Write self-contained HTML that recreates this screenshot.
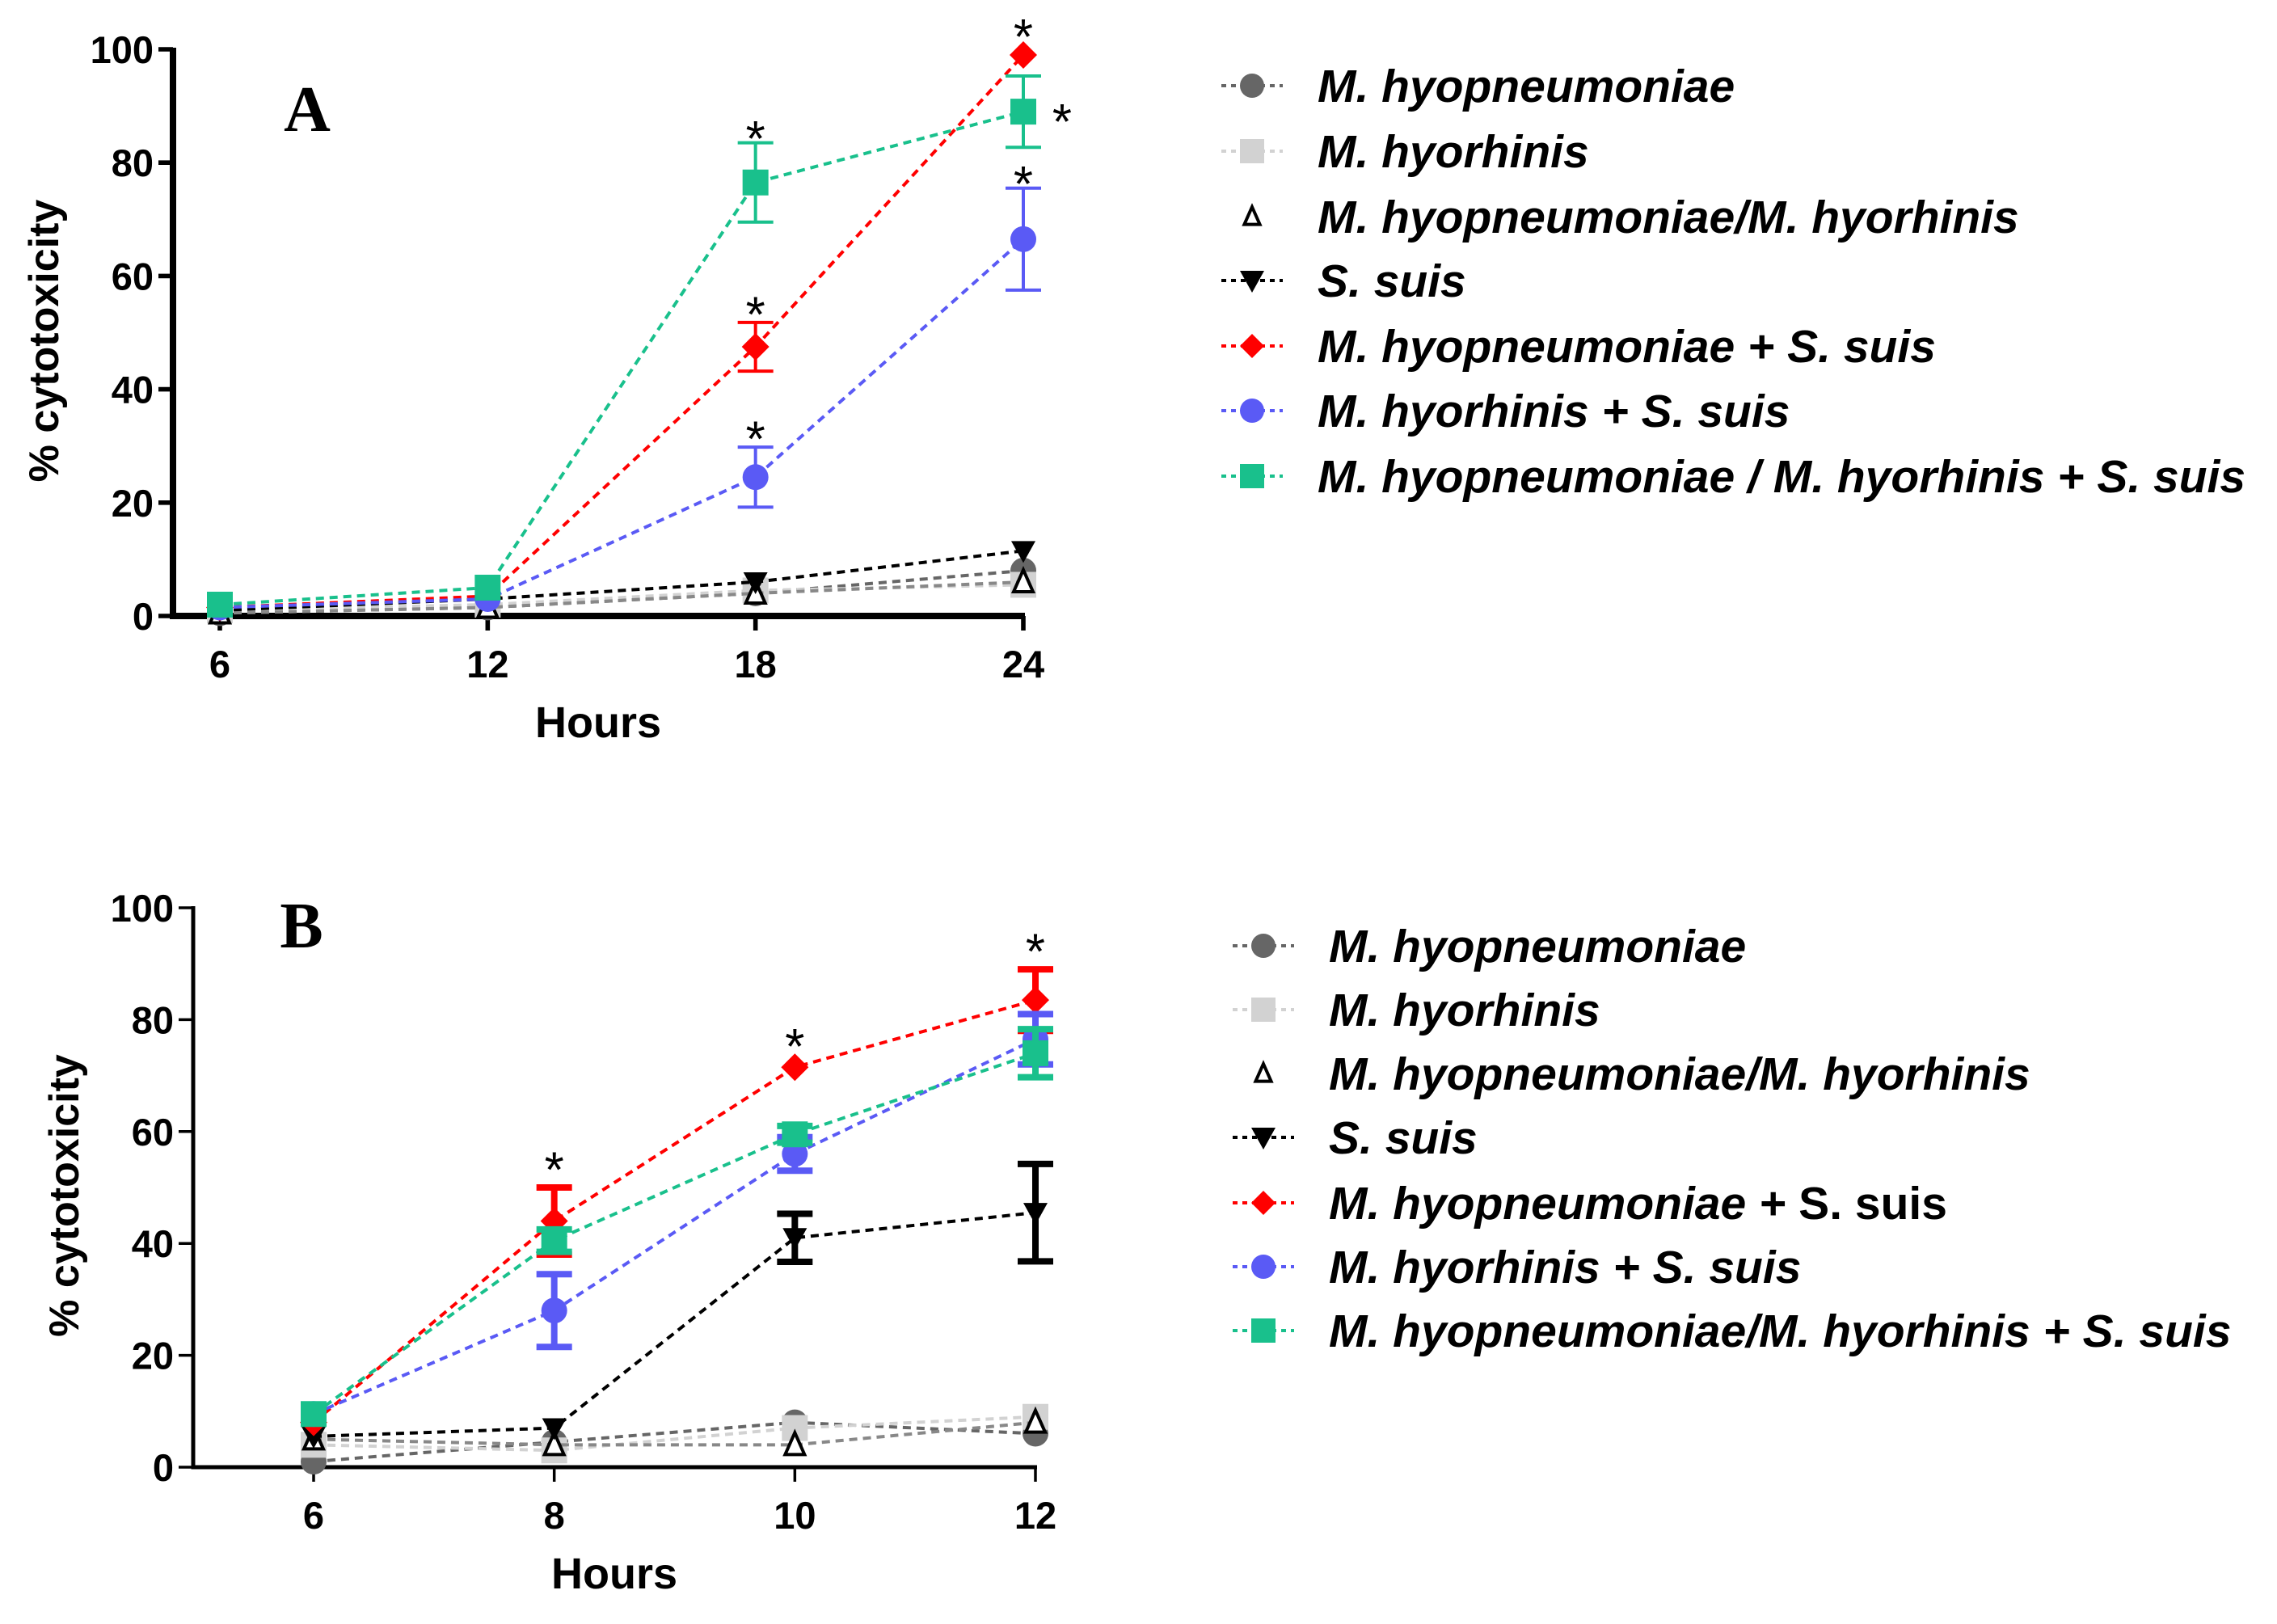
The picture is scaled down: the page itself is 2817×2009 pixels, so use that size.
<!DOCTYPE html>
<html><head><meta charset="utf-8"><style>
html,body{margin:0;padding:0;background:#fff;}
svg{display:block;}
</style></head><body>
<svg id="fig" width="2817" height="2009" viewBox="0 0 2817 2009" xmlns="http://www.w3.org/2000/svg" font-family="Liberation Sans, sans-serif"></svg>
<script>
const NS="http://www.w3.org/2000/svg";
const svg=document.getElementById('fig');
// ---- Data ----
const seriesNames=["M. hyopneumoniae","M. hyorhinis","M. hyopneumoniae/M. hyorhinis","S. suis","M. hyopneumoniae + S. suis","M. hyorhinis + S. suis","M. hyopneumoniae / M. hyorhinis + S. suis"];
const seriesColors=["#666666","#d2d2d2","#000000","#000000","#ff0000","#5a5af5","#19c08c"];
const seriesMarkers=["circle","square","triUp","triDown","diamond","circle","square"];
const yTicks=[0,20,40,60,80,100];
const hoursA=[6,12,18,24];
const mhpA=[0.5,1.5,4,8];
const mhrA=[1,2,4.5,5.5];
const mixA=[0.5,1.5,4,6];
const ssA=[1,3,6,11.5];
const mhpSsA=[1.5,3.5,47.5,99];
const mhpSsErrA=[0,0,4.3,0];
const mhrSsA=[1.5,3,24.5,66.5];
const mhrSsErrA=[0,0,5.3,9];
const mixSsA=[2,5,76.5,89];
const mixSsErrA=[0,0,7,6.3];
const starsA=[[18,86],[18,55],[18,33],[24,104],[24,78]];
const sideStarA=[24,89];
const hoursB=[6,8,10,12];
const mhpB=[1,4.5,8,6];
const mhrB=[4,3,7,9];
const mixB=[5,4,4,8];
const ssB=[5.5,7,41,45.5];
const ssErrB=[0,0,4.3,8.7];
const mhpSsB=[8,44,71.5,83.5];
const mhpSsErrB=[0,6,0,5.5];
const mhrSsB=[9.5,28,56,76.5];
const mhrSsErrB=[0,6.5,3,4.5];
const mixSsB=[9.5,40.5,59.5,74];
const mixSsErrB=[0,2,1.5,4.3];
const starsB=[[8,55],[10,77],[12,94]];

function el(tag,attrs,parent){const e=document.createElementNS(NS,tag);for(const k in attrs)e.setAttribute(k,attrs[k]);(parent||svg).appendChild(e);return e;}

function marker(g,type,cx,cy,s,color){
  let m;
  if(type==="circle") m=el('circle',{cx:cx,cy:cy,r:s,fill:color},g);
  else if(type==="square") m=el('rect',{x:cx-s,y:cy-s,width:2*s,height:2*s,fill:color},g);
  else if(type==="diamond") m=el('polygon',{points:`${cx},${cy-s} ${cx+s},${cy} ${cx},${cy+s} ${cx-s},${cy}`,fill:color},g);
  else if(type==="triDown") m=el('polygon',{points:`${cx-s},${cy-s*0.8} ${cx+s},${cy-s*0.8} ${cx},${cy+s}`,fill:color},g);
  else m=el('polygon',{points:`${cx},${cy-s} ${cx+s*0.8},${cy+s*0.8} ${cx-s*0.8},${cy+s*0.8}`,fill:"#fff",stroke:color,"stroke-width":4},g);
  return m;
}

function panel(cfg){
  const {id,hours,xmin,xmax,px0,px1,y0,y100,axisLeft,series,errs,errW,stars,sideStar,letter,letterPos,axisW}=cfg;
  const sx=v=>px0+(v-xmin)/(xmax-xmin)*(px1-px0);
  const sy=v=>y0+(y100-y0)*v/100;
  const g=el('g',{});
  
  
  const ya=el('line',{x1:axisLeft,y1:sy(100)-2,x2:axisLeft,y2:y0+axisW/2,stroke:"#000","stroke-width":axisW},g);
  
  const xa=el('line',{x1:axisLeft-axisW/2,y1:y0,x2:sx(hours[hours.length-1])+2,y2:y0,stroke:"#000","stroke-width":axisW},g);
  
  yTicks.forEach(t=>{
    el('line',{x1:axisLeft-18,y1:sy(t),x2:axisLeft,y2:sy(t),stroke:"#000","stroke-width":axisW*0.7},g);
    const tx=el('text',{x:axisLeft-24,y:sy(t)+17,"text-anchor":"end","font-size":47,"font-weight":"bold"},g);
    tx.textContent=t;
    
  });
  hours.forEach(h=>{
    el('line',{x1:sx(h),y1:y0,x2:sx(h),y2:y0+18,stroke:"#000","stroke-width":axisW*0.7},g);
    const tx=el('text',{x:sx(h),y:y0+76,"text-anchor":"middle","font-size":47,"font-weight":"bold"},g);
    tx.textContent=h;
    
  });
  const xt=el('text',{x:(axisLeft+sx(hours[3]))/2,y:y0+150,"text-anchor":"middle","font-size":54,"font-weight":"bold"},g);
  xt.textContent="Hours";
  
  const yc=(sy(0)+sy(100))/2+10;
  const ytl=el('text',{x:0,y:0,transform:`translate(${axisLeft-142},${yc}) rotate(-90)`,"text-anchor":"middle","font-size":52,"font-weight":"bold"},g);
  ytl.textContent="% cytotoxicity";
  
  const lt=el('text',{x:letterPos[0],y:letterPos[1],"text-anchor":"middle","font-size":80,"font-weight":"bold","font-family":"Liberation Serif, serif"},g);
  lt.textContent=letter;
  
  series.forEach((vals,i)=>{
    const sg=el('g',{},g);
    
    
    const col=seriesColors[i];
    const pts=vals.map((v,j)=>sx(hours[j])+","+sy(v)).join(" ");
    const pl=el('polyline',{points:pts,fill:"none",stroke:i===2?"#888":col,"stroke-width":4,"stroke-dasharray":"10,7"},sg);
    
    const e=errs[i];
    vals.forEach((v,j)=>{
      if(e&&e[j]>0){
        const eb=el('path',{d:`M${sx(hours[j])},${sy(v+e[j])}V${sy(v-e[j])}M${sx(hours[j])-22},${sy(v+e[j])}h44M${sx(hours[j])-22},${sy(v-e[j])}h44`,stroke:col,"stroke-width":errW,fill:"none"},sg);
        
      }
      const s=seriesMarkers[i]==="diamond"?17:seriesMarkers[i]==="square"?16:seriesMarkers[i]==="circle"?16:15;
      const m=marker(sg,seriesMarkers[i],sx(hours[j]),sy(v),s,col);
      
    });
  });
  stars.forEach(st=>{
    const t=el('text',{x:sx(st[0]),y:sy(st[1])+34,"text-anchor":"middle","font-size":62},g);
    t.textContent="*";
    
  });
  if(sideStar){
    const t=el('text',{x:sx(sideStar[0])+48,y:sy(sideStar[1])+34,"text-anchor":"middle","font-size":62},g);
    t.textContent="*";
    
  }
}

function legend(id,mx,tx,ys,names,fs,uprightRow){
  const g=el('g',{});
  
  
  names.forEach((n,i)=>{
    const eg=el('g',{},g);
    
    
    const y=ys[i];
    el('line',{x1:mx-38,y1:y,x2:mx+38,y2:y,stroke:i===2?"#fff":seriesColors[i],"stroke-width":4,"stroke-dasharray":"6,6"},eg);
    marker(eg,seriesMarkers[i],mx,y,i===2?12:15,seriesColors[i]);
    const t=el('text',{x:tx,y:y+20,"font-size":fs,"font-weight":"bold","font-style":"italic"},eg);
    if(uprightRow===i){
      t.textContent="M. hyopneumoniae + ";
      const sp=el('tspan',{"font-style":"normal"},t);sp.textContent="S. suis";
    } else t.textContent=n;
  });
}

panel({id:'a',hours:hoursA,xmin:6,xmax:24,px0:272,px1:1266,y0:762,y100:61,axisLeft:214,axisW:8,
  series:[mhpA,mhrA,mixA,ssA,mhpSsA,mhrSsA,mixSsA],
  errs:[null,null,null,null,mhpSsErrA,mhrSsErrA,mixSsErrA],errW:4,
  stars:starsA,sideStar:sideStarA,letter:"A",letterPos:[380,162]});
panel({id:'b',hours:hoursB,xmin:6,xmax:12,px0:388,px1:1281,y0:1815,y100:1123,axisLeft:239,axisW:5,
  series:[mhpB,mhrB,mixB,ssB,mhpSsB,mhrSsB,mixSsB],
  errs:[null,null,null,ssErrB,mhpSsErrB,mhrSsErrB,mixSsErrB],errW:8,
  stars:starsB,sideStar:null,letter:"B",letterPos:[373,1172]});
legend('a',1549,1630,[106,187,268,347,428,508,589],seriesNames,57,-1);
const namesB=seriesNames.slice();namesB[6]="M. hyopneumoniae/M. hyorhinis + S. suis";
legend('b',1563,1644,[1170,1249,1328,1407,1488,1567,1646],namesB,57,4);
</script>
</body></html>
